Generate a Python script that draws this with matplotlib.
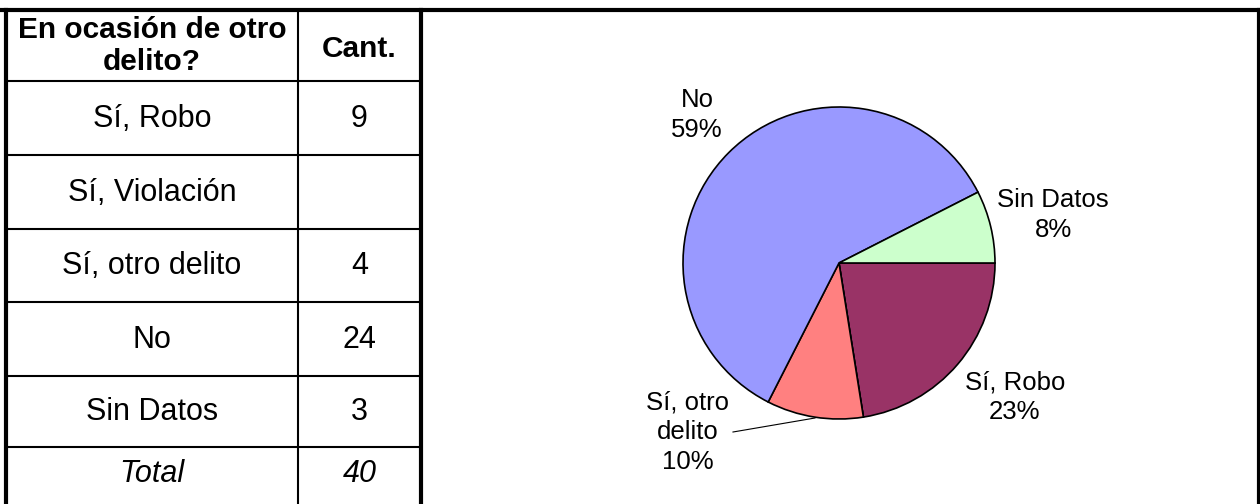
"""Tabla + gráfico de torta: ¿En ocasión de otro delito?"""
import matplotlib.pyplot as plt

plt.rcParams["font.family"] = ["Liberation Sans", "DejaVu Sans"]

header = ["En ocasión de otro\ndelito?", "Cant."]
categories = ["Sí, Robo", "Sí, Violación", "Sí, otro delito", "No", "Sin Datos"]
counts = [9, None, 4, 24, 3]
total_label = "Total"
total_value = 40

pie_labels = ["Sí, Robo", "", "Sí, otro\ndelito", "No", "Sin Datos"]
pie_pct = ["23%", "", "10%", "59%", "8%"]
pie_colors = ["#993366", "#FFFFCC", "#FF8080", "#9999FF", "#CCFFCC"]

W, H = 1260, 504
fig = plt.figure(figsize=(W / 100, H / 100), dpi=100)
fig.patch.set_facecolor("white")

# --- table, drawn in pixel coordinates ---
ax = fig.add_axes([0, 0, 1, 1])
ax.set_xlim(0, W)
ax.set_ylim(H, 0)
ax.axis("off")

row_edges = [10, 81, 155, 229, 302, 376, 447, H + 5]
x_left, x_mid, x_right = 6, 298, 421
c1, c2 = (x_left + x_mid) / 2, (x_mid + x_right) / 2

thin, thick = 1.5, 3.0
for y in row_edges[1:-1]:
    ax.plot([x_left, x_right], [y, y], color="black", lw=thin, solid_capstyle="butt")
ax.plot([x_mid, x_mid], [row_edges[0], H], color="black", lw=thin)
ax.plot([x_left, x_left], [row_edges[0], H], color="black", lw=thick)
ax.plot([x_right, x_right], [row_edges[0], H], color="black", lw=thick)
ax.plot([1258.5, 1258.5], [row_edges[0], H], color="black", lw=thick)
ax.plot([0, W], [row_edges[0], row_edges[0]], color="black", lw=thick)

fs_body = 22
ax.text(c1, 46, header[0], ha="center", va="center", fontsize=21.5,
        fontweight="bold", linespacing=1.15)
ax.text(c2, 49, header[1], ha="center", va="center", fontsize=21.5, fontweight="bold")

for i, (cat, val) in enumerate(zip(categories, counts)):
    yc = (row_edges[i + 1] + row_edges[i + 2]) / 2 + 1
    ax.text(c1, yc, cat, ha="center", va="center", fontsize=fs_body)
    if val is not None:
        ax.text(c2, yc, str(val), ha="center", va="center", fontsize=fs_body)

ax.text(c1, 474, total_label, ha="center", va="center", fontsize=fs_body, style="italic")
ax.text(c2, 474, str(total_value), ha="center", va="center", fontsize=fs_body, style="italic")

# --- pie ---
cx, cy, r = 839, 263, 156
pax = fig.add_axes([(cx - r) / W, (H - cy - r) / H, 2 * r / W, 2 * r / H])
pie_vals = [v if v is not None else 0 for v in counts]
pax.pie(pie_vals, colors=pie_colors, startangle=0, counterclock=False,
        wedgeprops=dict(edgecolor="black", linewidth=1.2))
pax.set_xlim(-1, 1)
pax.set_ylim(-1, 1)
pax.axis("off")

label_xy = [(1015, 397), None, (688, 432), (697, 115), (1053, 215)]
for lab, pct, xy in zip(pie_labels, pie_pct, label_xy):
    if xy is None:
        continue
    ax.text(xy[0], xy[1], f"{lab}\n{pct}", ha="center", va="center",
            fontsize=18.5, linespacing=1.3, zorder=5)

# leader line for "Sí, otro delito"
ax.plot([733, 815], [432, 418], color="black", lw=0.8, zorder=5)

fig.savefig("out.png", dpi=100, facecolor="white")
